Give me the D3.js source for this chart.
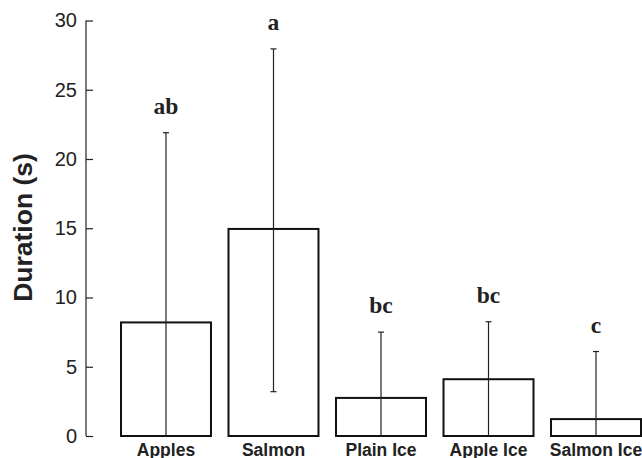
<!DOCTYPE html>
<html><head><meta charset="utf-8">
<script src="https://cdn.jsdelivr.net/npm/d3@7"></script>
<style>body{margin:0;background:#fff}svg{display:block}</style>
</head><body>
<script>
const categories = ["Apples", "Salmon", "Plain Ice", "Apple Ice", "Salmon Ice"];
const means = [8.2, 14.95, 2.75, 4.1, 1.22];
const errUpper = [21.9, 27.95, 7.5, 8.25, 6.1];
const errLower = [0, 3.2, 0, 0, 0];
const letters = ["ab", "a", "bc", "bc", "c"];
const yTicks = [0, 5, 10, 15, 20, 25, 30];

const W = 642, H = 458;
const svg = d3.select("body").append("svg").attr("width", W).attr("height", H);

const x = d3.scaleBand().domain(categories).range([121, 641]).paddingInner(0.163).paddingOuter(0);
const y = d3.scaleLinear().domain([0, 30]).range([436, 20.5]);
const axisX = 86;

// y axis
const yAxis = svg.append("g").attr("transform", `translate(${axisX},0)`)
  .call(d3.axisLeft(y).tickValues(yTicks).tickSize(-7).tickPadding(9).tickFormat(d3.format("d")));
yAxis.select(".domain").attr("stroke", "#222").attr("stroke-width", 1.2).attr("d", `M0,${y(30)}V${y(0)}`);
yAxis.selectAll(".tick line").attr("stroke", "#222").attr("stroke-width", 1.2);
yAxis.selectAll(".tick text").attr("font-family", "Liberation Sans, Arial, sans-serif")
  .attr("font-size", 20).attr("fill", "#222");

// bars
svg.append("g").selectAll("rect").data(categories).join("rect")
  .attr("x", d => x(d)).attr("width", x.bandwidth())
  .attr("y", (d, i) => y(means[i])).attr("height", (d, i) => y(0) - y(means[i]))
  .attr("fill", "#fff").attr("stroke", "#111").attr("stroke-width", 2);

// error bars
const eb = svg.append("g");
categories.forEach((c, i) => {
  const cx = x(c) + x.bandwidth() / 2;
  eb.append("line").attr("x1", cx).attr("x2", cx).attr("y1", y(errLower[i])).attr("y2", y(errUpper[i]))
    .attr("stroke", "#222").attr("stroke-width", 1.2);
  eb.append("line").attr("x1", cx - 3).attr("x2", cx + 3).attr("y1", y(errUpper[i])).attr("y2", y(errUpper[i]))
    .attr("stroke", "#222").attr("stroke-width", 1.2);
  if (errLower[i] > 0) {
    eb.append("line").attr("x1", cx - 3).attr("x2", cx + 3).attr("y1", y(errLower[i])).attr("y2", y(errLower[i]))
      .attr("stroke", "#222").attr("stroke-width", 1.2);
  }
  svg.append("text").attr("x", cx).attr("y", y(errUpper[i]) - 19)
    .attr("text-anchor", "middle").attr("font-family", "Liberation Serif, Times New Roman, serif")
    .attr("font-weight", "bold").attr("font-size", 23.5).attr("fill", "#222").text(letters[i]);
  svg.append("text").attr("x", cx).attr("y", 456)
    .attr("text-anchor", "middle").attr("font-family", "Liberation Sans, Arial, sans-serif")
    .attr("font-weight", "bold").attr("font-size", 17.5).attr("fill", "#222").text(c);
});

// y label
svg.append("text").attr("transform", "translate(32,227.5) rotate(-90)")
  .attr("text-anchor", "middle").attr("font-family", "Liberation Sans, Arial, sans-serif")
  .attr("font-weight", "bold").attr("font-size", 26.5).attr("fill", "#222").text("Duration (s)");
</script>
</body></html>
